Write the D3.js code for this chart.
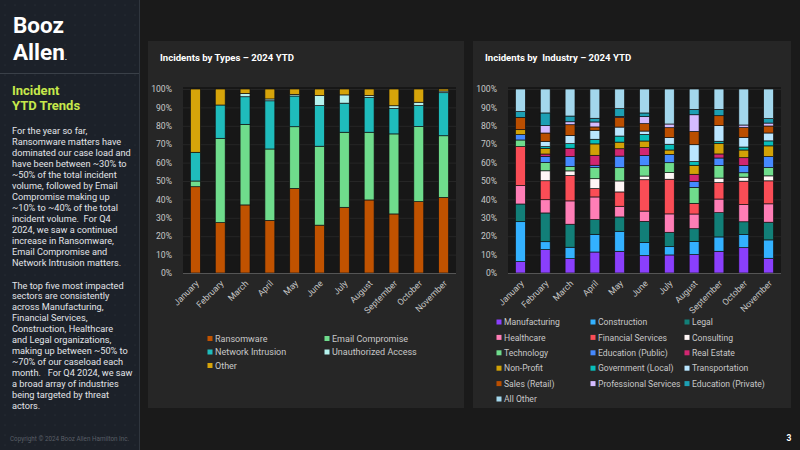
<!DOCTYPE html>
<html><head><meta charset="utf-8">
<script src="https://cdn.jsdelivr.net/npm/d3@7"></script>
<style>
html,body{margin:0;padding:0;background:#1a1a1a;}
svg{display:block;font-family:Roboto,"Noto Sans",sans-serif;}
</style></head>
<body>
<svg id="c" width="800" height="450"></svg>
<script>
// ---------- DATA ----------
const months = ["January","February","March","April","May","June","July","August","September","October","November"];
const yTicks = [0,0.1,0.2,0.3,0.4,0.5,0.6,0.7,0.8,0.9,1.0];

// Incidents by Types (% of month)
const typeNames = ["Ransomware","Email Compromise","Network Intrusion","Unauthorized Access","Other"];
const ransomware         = [46.9, 27.4, 37.0, 28.6, 46.0, 26.0, 35.7, 39.7, 32.1, 38.8, 41.1];
const emailCompromise    = [ 3.1, 45.8, 43.8, 38.8, 33.5, 42.9, 40.8, 36.8, 43.5, 40.8, 33.5];
const networkIntrusion   = [15.6, 18.1, 15.0, 26.2, 16.7, 22.1, 15.8, 19.0, 13.9, 11.4, 23.4];
const unauthorizedAccess = [ 0.0,  0.0,  1.8,  1.0,  0.9,  5.4,  4.5,  0.9,  1.4,  1.8,  0.9];
const otherType          = [34.4,  8.7,  2.4,  5.4,  2.9,  3.6,  3.2,  3.6,  9.1,  7.2,  1.1];
const typeColors = ["#c05200","#6fdc8c","#1fbcbc","#b5f2ee","#d6a40a"];

// Incidents by Industry (% of month)
const industryNames = ["Manufacturing","Construction","Legal","Healthcare","Financial Services","Consulting",
  "Technology","Education (Public)","Real Estate","Non-Profit","Government (Local)","Transportation",
  "Sales (Retail)","Professional Services","Education (Private)","All Other"];
const manufacturing        = [ 6.2, 12.7,  7.8, 11.4, 11.8,  9.4,  9.8, 10.0, 11.8, 13.8,  8.0];
const construction         = [21.7,  4.3,  6.2,  9.6, 10.9,  7.2,  4.5,  7.2,  7.8,  7.2, 10.0];
const legal                = [ 9.6, 15.6, 12.5,  8.0,  7.8, 11.4,  7.8,  6.9, 13.2,  6.9,  9.6];
const healthcare           = [10.0,  7.2, 12.7, 12.3,  5.8,  5.6, 10.0,  8.0,  7.4,  9.4, 10.0];
const financialServices    = [21.2, 10.3, 13.8,  4.5,  7.8, 17.0, 18.8,  5.8,  8.9, 12.7, 12.5];
const consulting           = [ 0.0,  5.4,  2.5,  5.4,  6.0,  2.0,  3.6,  0.0,  2.5,  2.2,  2.7];
const technology           = [ 3.6,  4.5,  2.4,  6.0,  7.2,  5.6,  5.4,  8.7,  6.9,  2.4,  4.5];
const educationPublic      = [ 2.9,  3.3,  5.4,  1.3,  6.3,  5.6,  4.5,  3.1,  4.0,  4.0,  6.0];
const realEstate           = [ 0.0,  1.3,  4.5,  5.4,  4.0,  4.2,  0.0,  4.0,  2.2,  4.2,  0.0];
const nonProfit            = [ 2.7,  3.1,  0.0,  6.2,  3.6,  3.6,  2.4,  4.9,  5.8,  4.2,  5.8];
const governmentLocal      = [ 0.0,  0.9,  2.5,  2.5,  3.3,  3.6,  3.1,  2.0,  1.1,  1.6,  2.7];
const transportation       = [ 0.0,  2.9,  4.5,  4.9,  4.9,  1.8,  3.6,  9.2,  8.5,  5.3,  4.3];
const salesRetail          = [ 6.7,  4.5,  5.8,  1.8,  5.3,  4.0,  5.4,  7.2,  5.4,  5.3,  3.8];
const professionalServices = [ 0.0,  4.0,  1.6,  2.7,  0.5,  3.8,  2.0,  9.1,  0.0,  1.4,  1.6];
const educationPrivate     = [ 3.1,  6.9,  3.1,  2.0,  4.2,  2.0,  0.0,  2.9,  3.4,  0.0,  2.4];
const allOther             = [12.3, 13.0, 14.7, 15.9, 10.7, 13.0, 19.0, 11.1, 11.1, 19.6, 16.1];
const industryColors = ["#8a3ffc","#33b1ff","#127f78","#ff7eb6","#fa4d56","#fff6f6","#6fdc8c","#4589ff",
  "#d12771","#d2a106","#08bdba","#bae6ff","#ba4e00","#d4bbff","#1d9fb3","#a3d7ec"];

const typeValues = [ransomware,emailCompromise,networkIntrusion,unauthorizedAccess,otherType];
const industryValues = [manufacturing,construction,legal,healthcare,financialServices,consulting,technology,
  educationPublic,realEstate,nonProfit,governmentLocal,transportation,salesRetail,professionalServices,
  educationPrivate,allOther];

// ---------- DRAW ----------
const svg = d3.select("#c");
svg.append("rect").attr("width",800).attr("height",450).attr("fill","#1a1a1a");

// sidebar
const defs = svg.append("defs");
const pat = defs.append("pattern").attr("id","dots").attr("width",10).attr("height",10).attr("patternUnits","userSpaceOnUse");
pat.append("rect").attr("width",10).attr("height",10).attr("fill","#1c2129");
pat.append("circle").attr("cx",5).attr("cy",5).attr("r",0.55).attr("fill","#2f363f");
svg.append("rect").attr("x",0).attr("y",0).attr("width",140).attr("height",450).attr("fill","url(#dots)");
svg.append("line").attr("x1",139.5).attr("x2",139.5).attr("y1",0).attr("y2",450).attr("stroke","#30363e");
svg.append("line").attr("x1",0).attr("x2",139).attr("y1",73.5).attr("y2",73.5).attr("stroke","#3a4048");

// logo
const logo = svg.append("g").attr("transform","translate(13,0)")
  .attr("fill","#ffffff").attr("font-weight",700).attr("font-size",22.5).style("font-family","Roboto,sans-serif");
logo.append("text").attr("x",0).attr("y",33).text("Booz");
const l2 = logo.append("text").attr("x",0).attr("y",60);
l2.append("tspan").text("Allen");
l2.append("tspan").attr("font-size",8).text(".");

const side = svg.append("g").attr("font-family","Roboto,sans-serif");
side.append("text").attr("x",12).attr("y",95).attr("fill","#c6e84b").attr("font-weight",700).attr("font-size",13).text("Incident");
side.append("text").attr("x",12).attr("y",110).attr("fill","#c6e84b").attr("font-weight",700).attr("font-size",13).text("YTD Trends");

const para1 = ["For the year so far,","Ransomware matters have","dominated our case load and",
 "have been between ~30% to","~50% of the total incident","volume, followed by Email","Compromise making up",
 "~10% to ~40% of the total","incident volume.  For Q4","2024, we saw a continued","increase in Ransomware,",
 "Email Compromise and","Network Intrusion matters."];
const para2 = ["The top five most impacted","sectors are consistently","across Manufacturing,","Financial Services,",
 "Construction, Healthcare","and Legal organizations,","making up between ~50% to","~70% of our caseload each",
 "month.   For Q4 2024, we saw","a broad array of industries","being targeted by threat","actors."];
para1.forEach((t,i)=>side.append("text").attr("x",12).attr("y",133.5+i*11).attr("fill","#e2e4e8").attr("font-size",9.2).style("white-space","pre").text(t));
para2.forEach((t,i)=>side.append("text").attr("x",12).attr("y",288.5+i*10.95).attr("fill","#e2e4e8").attr("font-size",9.2).style("white-space","pre").text(t));
side.append("text").attr("x",10).attr("y",441).attr("fill","#5a5f66").attr("font-size",6.3).text("Copyright © 2024 Booz Allen Hamilton Inc.");

svg.append("text").attr("x",789).attr("y",441).attr("fill","#ffffff").attr("font-weight",700).attr("font-size",8.5).attr("text-anchor","middle").text("3");

function drawChart(opt){
  const g = svg.append("g");
  g.append("rect").attr("x",opt.px).attr("y",41).attr("width",opt.pw).attr("height",367).attr("fill","#262626");
  g.append("text").attr("x",opt.tx).attr("y",61).attr("fill","#ffffff").attr("font-weight",700)
    .attr("font-size",9.6).style("white-space","pre").text(opt.title);
  const x = d3.scaleBand().domain(months).range([opt.x0,opt.x1]).paddingInner(0.6).paddingOuter(0.3);
  const y = d3.scaleLinear().domain([0,1]).range([273,89]);
  g.append("rect").attr("x",opt.x0).attr("y",87).attr("width",opt.x1-opt.x0).attr("height",186).attr("fill","#171717");
  g.append("g").selectAll("line").data(yTicks.slice(1)).join("line")
    .attr("x1",opt.x0).attr("x2",opt.x1).attr("y1",d=>y(d)+0.5).attr("y2",d=>y(d)+0.5).attr("stroke","#262626").attr("stroke-width",1);
  const ya = g.append("g").attr("transform",`translate(${opt.x0-8},0)`)
    .call(d3.axisLeft(y).tickValues(yTicks).tickFormat(d3.format(".0%")).tickSize(0));
  ya.select(".domain").remove();
  ya.selectAll("text").attr("fill","#c8c8c8").attr("font-size",8.6).attr("font-family","Roboto,sans-serif");

  const rows = months.map((m,i)=>{const o={month:m}; opt.names.forEach((n,k)=>o[n]=opt.values[k][i]); return o;});
  const stack = d3.stack().keys(opt.names).offset(d3.stackOffsetExpand)(rows);
  g.append("g").selectAll("g").data(stack).join("g").attr("fill",(d,i)=>opt.colors[i])
    .selectAll("rect").data(d=>d).join("rect")
    .attr("x",d=>x(d.data.month)).attr("width",x.bandwidth())
    .attr("y",d=>y(d[1])).attr("height",d=>Math.max(0,y(d[0])-y(d[1])))
    .attr("stroke","#141414").attr("stroke-width",d=>(d[1]-d[0])>0.0001?0.7:0);

  g.append("line").attr("x1",opt.x0).attr("x2",opt.x1).attr("y1",273.5).attr("y2",273.5).attr("stroke","#555");
  const xa = g.append("g").attr("transform","translate(0,273)").call(d3.axisBottom(x).tickSize(0));
  xa.select(".domain").remove();
  xa.selectAll("text").attr("fill","#c4c4c4").attr("font-size",8.8).attr("font-family","Roboto,sans-serif")
    .attr("text-anchor","end").attr("dy",0).attr("y",0)
    .attr("transform","translate(4,11) rotate(-45)");

  const lg = g.append("g");
  opt.names.forEach((n,i)=>{
    const c = i % opt.cols, r = Math.floor(i/opt.cols);
    const lx = opt.lx[c], ly = opt.ly0 + r*opt.ldy;
    lg.append("rect").attr("x",lx-2.5).attr("y",ly-2.5).attr("width",5).attr("height",5).attr("fill",opt.colors[i]);
    lg.append("text").attr("x",lx+5).attr("y",ly+3.2).attr("fill","#c8c8c8").attr("font-size",opt.lfs).text(n);
  });
}

drawChart({px:148,pw:316,tx:160,title:"Incidents by Types – 2024 YTD",x0:183,x1:456,
  names:typeNames,values:typeValues,colors:typeColors,cols:2,lx:[210,327],ly0:338.5,ldy:13.5,lfs:9});
drawChart({px:473,pw:318,tx:485,title:"Incidents by  Industry – 2024 YTD",x0:508,x1:781,
  names:industryNames,values:industryValues,colors:industryColors,cols:3,lx:[499,593,687],ly0:322,ldy:15.4,lfs:8.6});
</script>
</body></html>
